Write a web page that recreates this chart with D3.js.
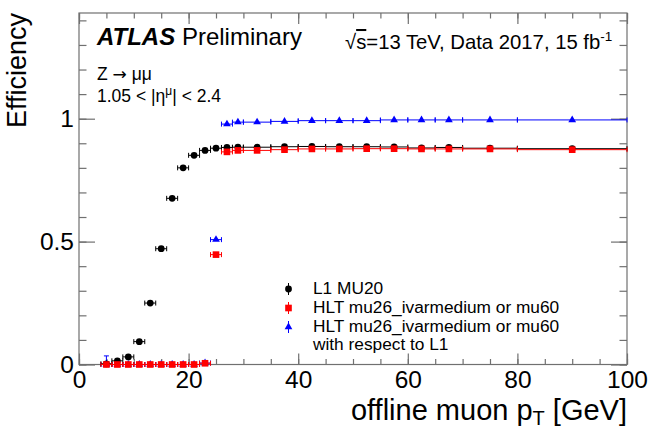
<!DOCTYPE html>
<html><head><meta charset="utf-8">
<script src="https://cdn.jsdelivr.net/npm/d3@7"></script>
<style>
body{margin:0;background:#fff;}
svg{display:block;font-family:"Liberation Sans",Arial,Helvetica,sans-serif;}
</style></head>
<body>
<svg id="c" width="650" height="432"></svg>
<script>
// ---- data ----
const ptBins      = [5,7,9,11,13,15,17,19,21,23,25,27,29,32.5,37.5,42.5,47.5,52.5,57.5,62.5,67.5,75,90];
const ptHalfWidth = [1,1,1,1,1,1,1,1,1,1,1,1,1,2.5,2.5,2.5,2.5,2.5,2.5,2.5,2.5,5,10];
const effL1       = [0.003,0.015,0.031,0.093,0.25,0.471,0.676,0.80,0.851,0.871,0.88,0.883,0.884,0.884,0.886,0.887,0.886,0.886,0.885,0.881,0.883,0.880,0.878];
const effHLT      = [0,0,0,0,0,0,0,0,0,0.005,0.447,0.865,0.871,0.871,0.874,0.877,0.877,0.878,0.878,0.877,0.877,0.877,0.874];
const effHLTwrtL1 = [0,0,0,0,0,0,0,0,0,0.006,0.508,0.978,0.986,0.986,0.989,0.992,0.992,0.992,0.995,0.995,0.995,0.995,0.995];
const errHLTwrtL1 = [0.035,0.004,0.004,0.003,0.003,0.003,0.003,0.003,0.003,0.003,0.006,0.003,0.002,0.002,0.002,0.002,0.002,0.002,0.002,0.002,0.002,0.002,0.002];
const xMajorTicks = [0,20,40,60,80,100];
const yMajorTicks = [0,0.5,1];
const legendLabels = ["L1 MU20","HLT mu26_ivarmedium or mu60","HLT mu26_ivarmedium or mu60","with respect to L1"];

// ---- layout ----
const svg = d3.select("#c");
const L=79, R=627, T=13, B=364.5;
const x = d3.scaleLinear([0,100],[L,R]);
const y = d3.scaleLinear([0,1.43],[B,T]);
const axisCol = "#707070";

// frame
svg.append("rect").attr("x",L).attr("y",T).attr("width",R-L).attr("height",B-T)
  .attr("fill","none").attr("stroke",axisCol).attr("stroke-width",1.2);

const xMinor = d3.range(0,101,5);
const yMinor = d3.range(0,1.43,0.1);

function styleAxis(g){
  g.select(".domain").remove();
  g.selectAll("line").attr("stroke",axisCol).attr("stroke-width",1.2);
  g.selectAll("text").attr("fill","#000").attr("font-size",24.5).attr("font-family","Liberation Sans, Arial, sans-serif");
}
// bottom
svg.append("g").attr("transform",`translate(0,${B})`)
  .call(d3.axisBottom(x).tickValues(xMinor).tickSize(-5.5).tickFormat("")).call(styleAxis);
svg.append("g").attr("transform",`translate(0,${B})`)
  .call(d3.axisBottom(x).tickValues(xMajorTicks).tickSize(-11).tickPadding(6).tickFormat(d3.format("d"))).call(styleAxis);
// top
svg.append("g").attr("transform",`translate(0,${T})`)
  .call(d3.axisTop(x).tickValues(xMinor).tickSize(-5.5).tickFormat("")).call(styleAxis);
svg.append("g").attr("transform",`translate(0,${T})`)
  .call(d3.axisTop(x).tickValues(xMajorTicks).tickSize(-11).tickFormat("")).call(styleAxis);
// left
svg.append("g").attr("transform",`translate(${L},0)`)
  .call(d3.axisLeft(y).tickValues(yMinor).tickSize(-7.5).tickFormat("")).call(styleAxis);
svg.append("g").attr("transform",`translate(${L},0)`)
  .call(d3.axisLeft(y).tickValues(yMajorTicks).tickSize(-16).tickPadding(5).tickFormat(d=>d===0?"0":d3.format("")(d))).call(styleAxis);
// right
svg.append("g").attr("transform",`translate(${R},0)`)
  .call(d3.axisRight(y).tickValues(yMinor).tickSize(-7.5).tickFormat("")).call(styleAxis);
svg.append("g").attr("transform",`translate(${R},0)`)
  .call(d3.axisRight(y).tickValues(yMajorTicks).tickSize(-16).tickFormat("")).call(styleAxis);

// axis titles
const xt = svg.append("text").attr("x",R).attr("y",420).attr("text-anchor","end").attr("font-size",29);
xt.append("tspan").text("offline muon p");
xt.append("tspan").attr("font-size",20).attr("dy",5).text("T");
xt.append("tspan").attr("dy",-5).text(" [GeV]");

svg.append("text").attr("transform",`translate(26,${T}) rotate(-90)`).attr("text-anchor","end")
  .attr("font-size",27).text("Efficiency");

// ---- data series ----
const data = ptBins.map((p,i)=>({p,hw:ptHalfWidth[i],l1:effL1[i],hlt:effHLT[i],rel:effHLTwrtL1[i],relErr:errHLTwrtL1[i]}));

function drawSeries(key, color, shape, errKey){
  const g = svg.append("g");
  g.selectAll("line.h").data(data).join("line")
    .attr("x1",d=>x(d.p-d.hw)).attr("x2",d=>x(d.p+d.hw))
    .attr("y1",d=>y(d[key])).attr("y2",d=>y(d[key]))
    .attr("stroke",color).attr("stroke-width",1);
  g.selectAll("line.c1").data(data).join("line")
    .attr("x1",d=>x(d.p-d.hw)).attr("x2",d=>x(d.p-d.hw))
    .attr("y1",d=>y(d[key])-2.5).attr("y2",d=>y(d[key])+2.5)
    .attr("stroke",color).attr("stroke-width",1);
  g.selectAll("line.c2").data(data).join("line")
    .attr("x1",d=>x(d.p+d.hw)).attr("x2",d=>x(d.p+d.hw))
    .attr("y1",d=>y(d[key])-2.5).attr("y2",d=>y(d[key])+2.5)
    .attr("stroke",color).attr("stroke-width",1);
  if(errKey){
    g.selectAll("line.v").data(data).join("line")
      .attr("x1",d=>x(d.p)).attr("x2",d=>x(d.p))
      .attr("y1",d=>y(d[key])).attr("y2",d=>y(d[key]+d[errKey]))
      .attr("stroke",color).attr("stroke-width",1);
    g.selectAll("line.vc").data(data.filter(d=>d[errKey]>0.01)).join("line")
      .attr("x1",d=>x(d.p)-2.5).attr("x2",d=>x(d.p)+2.5)
      .attr("y1",d=>y(d[key]+d[errKey])).attr("y2",d=>y(d[key]+d[errKey]))
      .attr("stroke",color).attr("stroke-width",1);
  }
  g.selectAll("path.m").data(data).join("path")
    .attr("transform",d=>`translate(${x(d.p)},${y(d[key])})`)
    .attr("d",d3.symbol().type(shape).size(shape===d3.symbolSquare?44:(shape===d3.symbolTriangle?26:36)))
    .attr("fill",color);
}
drawSeries("rel","#0000ff",d3.symbolTriangle,"relErr");
drawSeries("l1","#000000",d3.symbolCircle,null);
drawSeries("hlt","#ff0000",d3.symbolSquare,null);

// ---- texts ----
const atl = svg.append("text").attr("x",97).attr("y",45).attr("font-size",24);
atl.append("tspan").attr("font-weight","bold").attr("font-style","italic").text("ATLAS");
atl.append("tspan").text(" Preliminary");

const en = svg.append("text").attr("x",345).attr("y",49).attr("font-size",20.3);
en.append("tspan").text("\u221A");
en.append("tspan").attr("text-decoration","overline").text("s");
en.append("tspan").text("=13 TeV, Data 2017, 15 fb");
en.append("tspan").attr("font-size",13.5).attr("dy",-8).text("-1");

const zt = svg.append("text").attr("x",97).attr("y",80).attr("font-size",17.5);
zt.append("tspan").text("Z ");
zt.append("tspan").attr("font-family","DejaVu Sans").attr("font-size",17).text("\u2192");
zt.append("tspan").text(" \u03BC\u03BC");
const eta = svg.append("text").attr("x",97).attr("y",102).attr("font-size",17.5);
eta.append("tspan").text("1.05 < |\u03B7");
eta.append("tspan").attr("font-size",12).attr("dy",-7).text("\u03BC");
eta.append("tspan").attr("dy",7).text("| < 2.4");

// ---- legend ----
const legY = [289,308,327];
const legCol = ["#000000","#ff0000","#0000ff"];
const legShape = [d3.symbolCircle,d3.symbolSquare,d3.symbolTriangle];
const legSize = [36,44,26];
legY.forEach((ly,i)=>{
  svg.append("line").attr("x1",288.5).attr("x2",288.5).attr("y1",ly-6).attr("y2",ly+6)
    .attr("stroke",legCol[i]).attr("stroke-width",1);
  svg.append("path").attr("transform",`translate(288.5,${ly})`)
    .attr("d",d3.symbol().type(legShape[i]).size(legSize[i])).attr("fill",legCol[i]);
});
legendLabels.forEach((t,i)=>{
  svg.append("text").attr("x",313).attr("y",294+i*18.8).attr("font-size",17.3).text(t);
});
</script>
</body></html>
